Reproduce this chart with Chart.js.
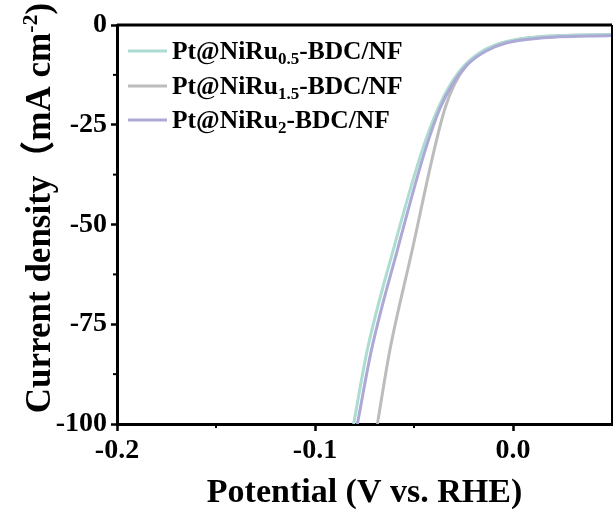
<!DOCTYPE html>
<html>
<head>
<meta charset="utf-8">
<script src="https://cdn.jsdelivr.net/npm/chart.js@4/dist/chart.umd.min.js"></script>
<style>
  html, body { margin: 0; padding: 0; background: #fff; }
  #wrap { width: 613px; height: 514px; }
</style>
</head>
<body>
<div id="wrap"><canvas id="lsv" width="613" height="514"></canvas></div>
<script>
// LSV polarisation curves (current density vs potential)
const seriesBase = ["Pt@NiRu", "Pt@NiRu", "Pt@NiRu"];
const seriesSub = ["0.5", "1.5", "2"];
const seriesTail = "-BDC/NF";
const seriesColors = ["rgb(172,220,210)", "rgb(188,188,188)", "rgb(172,169,214)"];

const potRu05 = [-0.0805, -0.0736, -0.0605, -0.0458, -0.0378, -0.0317, -0.0242, -0.0146, -0.0045, 0.0121, 0.05];
const curRu05 = [-100, -81.5, -56.4, -31.3, -20.8, -15.0, -10.0, -6.3, -4.3, -3.0, -2.4];

const potRu15 = [-0.0685, -0.0622, -0.0509, -0.0398, -0.0343, -0.0297, -0.0232, -0.0141, -0.0040, 0.0126, 0.05];
const curRu15 = [-100, -81.5, -56.4, -31.3, -20.8, -15.0, -10.0, -6.3, -4.3, -3.0, -2.4];

const potRu2 = [-0.0786, -0.0715, -0.0584, -0.0443, -0.0368, -0.0307, -0.0232, -0.0136, -0.0035, 0.0131, 0.05];
const curRu2 = [-100, -81.5, -56.4, -31.3, -20.8, -15.0, -10.0, -6.5, -4.5, -3.3, -2.6];

const xTickValues = [-0.2, -0.1, 0.0];
const xTickLabels = ["-0.2", "-0.1", "0.0"];
const xMinorValues = [-0.15, -0.05];
const yTickValues = [-100, -75, -50, -25, 0];
const yTickLabels = ["-100", "-75", "-50", "-25", "0"];
const yMinorValues = [-87.5, -62.5, -37.5, -12.5];

const serif = '"Liberation Serif", "Times New Roman", serif';

const toPoints = (xs, ys) => xs.map((x, i) => ({ x: x, y: ys[i] }));

// frame, minor ticks, legend and y title (needs a superscript)
const decorations = {
    id: "decorations",
    afterDatasetsDraw(chart) {
        const ctx = chart.ctx;
        const area = chart.chartArea;
        const xs = chart.scales.x;
        const ys = chart.scales.y;

        ctx.save();
        ctx.strokeStyle = "#000";
        ctx.lineWidth = 3;
        ctx.beginPath();
        ctx.moveTo(area.left, area.top);
        ctx.lineTo(area.right, area.top);
        ctx.stroke();
        ctx.lineWidth = 2;
        ctx.beginPath();
        ctx.moveTo(area.right, area.top);
        ctx.lineTo(area.right, area.bottom);
        ctx.stroke();

        ctx.lineWidth = 2;
        yMinorValues.forEach((v) => {
            const py = ys.getPixelForValue(v);
            ctx.beginPath();
            ctx.moveTo(area.left, py);
            ctx.lineTo(area.left - 4, py);
            ctx.stroke();
        });
        xMinorValues.forEach((v) => {
            const px = xs.getPixelForValue(v);
            ctx.beginPath();
            ctx.moveTo(px, area.bottom);
            ctx.lineTo(px, area.bottom + 4);
            ctx.stroke();
        });

        // legend
        const rowY = [51, 86, 120];
        ctx.textBaseline = "alphabetic";
        ctx.textAlign = "left";
        seriesBase.forEach((base, i) => {
            const cy = rowY[i];
            ctx.strokeStyle = seriesColors[i];
            ctx.lineWidth = 3;
            ctx.beginPath();
            ctx.moveTo(128, cy);
            ctx.lineTo(167, cy);
            ctx.stroke();

            ctx.fillStyle = "#000";
            let tx = 172;
            const baseY = cy + 8;
            ctx.font = "bold 25.5px " + serif;
            ctx.fillText(base, tx, baseY);
            tx += ctx.measureText(base).width;
            ctx.font = "bold 17px " + serif;
            ctx.fillText(seriesSub[i], tx, baseY + 5);
            tx += ctx.measureText(seriesSub[i]).width;
            ctx.font = "bold 25.5px " + serif;
            ctx.fillText(seriesTail, tx, baseY);
        });

        // y axis title
        const parts = [
            { t: "Current density", f: "bold 35px " + serif, dy: 0 },
            { t: "\uFF08", f: "bold 35px " + serif + ', "Noto Sans CJK SC"', dy: 0 },
            { t: "mA cm", f: "bold 35px " + serif, dy: 0 },
            { t: "-2", f: "bold 22px " + serif, dy: -13 },
            { t: ")", f: "bold 35px " + serif, dy: 0 },
        ];
        let total = 0;
        parts.forEach((p) => {
            ctx.font = p.f;
            p.w = ctx.measureText(p.t).width;
            total += p.w;
        });
        ctx.translate(50, 208);
        ctx.rotate(-Math.PI / 2);
        ctx.fillStyle = "#000";
        let cx = -total / 2;
        parts.forEach((p) => {
            ctx.font = p.f;
            ctx.fillText(p.t, cx, p.dy);
            cx += p.w;
        });
        ctx.restore();
    },
};

const ctx = document.getElementById("lsv").getContext("2d");

new Chart(ctx, {
    type: "line",
    data: {
        datasets: [
            {
                label: seriesBase[0] + seriesSub[0] + seriesTail,
                data: toPoints(potRu05, curRu05),
                borderColor: seriesColors[0],
                order: 1,
            },
            {
                label: seriesBase[1] + seriesSub[1] + seriesTail,
                data: toPoints(potRu15, curRu15),
                borderColor: seriesColors[1],
                order: 2,
            },
            {
                label: seriesBase[2] + seriesSub[2] + seriesTail,
                data: toPoints(potRu2, curRu2),
                borderColor: seriesColors[2],
                order: 0,
            },
        ],
    },
    options: {
        responsive: false,
        animation: false,
        events: [],
        layout: { padding: { top: 25, right: 1, left: 0, bottom: 0 } },
        elements: {
            point: { radius: 0 },
            line: { borderWidth: 3, cubicInterpolationMode: "monotone", fill: false },
        },
        plugins: {
            legend: { display: false },
            tooltip: { enabled: false },
        },
        scales: {
            x: {
                type: "linear",
                min: -0.2,
                max: 0.05,
                afterBuildTicks: (scale) => {
                    scale.ticks = xTickValues.map((v) => ({ value: v }));
                },
                afterFit: (scale) => {
                    scale.height = 90;
                },
                ticks: {
                    padding: 3,
                    color: "#000",
                    font: { family: serif, size: 28, weight: "bold" },
                    callback: (v) => xTickLabels[xTickValues.findIndex((t) => Math.abs(t - v) < 1e-9)],
                    maxRotation: 0,
                },
                grid: { drawOnChartArea: false, tickLength: 7, tickWidth: 2.5, tickColor: "#000" },
                border: { width: 3, color: "#000" },
                title: {
                    display: true,
                    text: "Potential (V vs. RHE)",
                    color: "#000",
                    font: { family: serif, size: 34, weight: "bold" },
                    padding: { top: 0, bottom: 0 },
                },
            },
            y: {
                type: "linear",
                min: -100,
                max: 0,
                afterBuildTicks: (scale) => {
                    scale.ticks = yTickValues.map((v) => ({ value: v }));
                },
                afterFit: (scale) => {
                    scale.width = 117;
                },
                ticks: {
                    padding: 4,
                    color: "#000",
                    font: { family: serif, size: 28, weight: "bold" },
                    callback: (v) => yTickLabels[yTickValues.indexOf(v)],
                },
                grid: { drawOnChartArea: false, tickLength: 6, tickWidth: 2.5, tickColor: "#000" },
                border: { width: 3, color: "#000" },
            },
        },
    },
    plugins: [decorations],
});
</script>
</body>
</html>
